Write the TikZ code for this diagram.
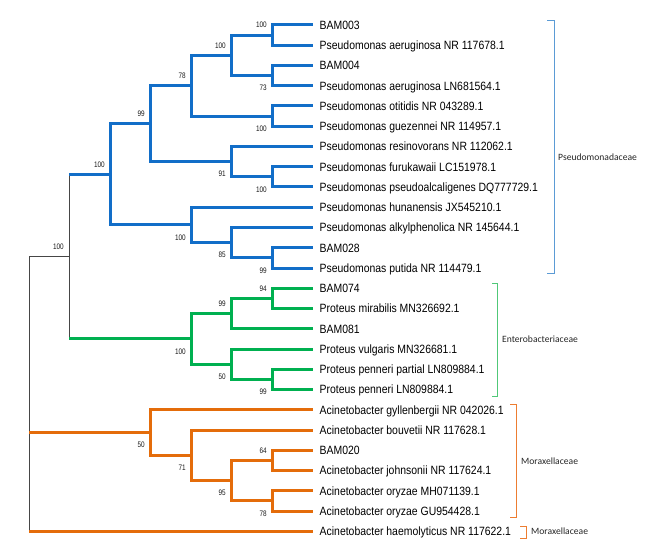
\documentclass[tikz,border=0pt]{standalone}
\usepackage{fontspec}
\newfontfamily\leaffont[FakeStretch=0.87]{Liberation Sans}
\newfontfamily\bootfont[FakeStretch=0.8]{Liberation Sans}
\newfontfamily\famfont{Carlito}
\usepackage{xcolor}
\usetikzlibrary{calc}

\definecolor{megablue}{RGB}{18,110,200}
\definecolor{megagreen}{RGB}{0,176,80}
\definecolor{megaorange}{RGB}{228,108,10}
\definecolor{brblue}{RGB}{91,155,213}
\definecolor{brgreen}{RGB}{80,200,120}
\definecolor{brorange}{RGB}{237,125,49}
\definecolor{rootgray}{RGB}{70,70,70}

\tikzset{
  leaf/.style={anchor=west, inner xsep=6.5pt, inner ysep=0pt, text height=8.6pt, text depth=0pt,
    font=\leaffont\fontsize{12}{12}\selectfont},
  boot/.style={anchor=east, inner sep=0pt,
    font=\bootfont\fontsize{8}{8}\selectfont, text=black!90},
  bootup/.style={boot, xshift=-5pt, yshift=10pt},
  bootdown/.style={boot, xshift=-5pt, yshift=-12.5pt},
  fam/.style={anchor=west, inner sep=0pt, font=\famfont\fontsize{9.6}{9.6}\selectfont, text=black!85},
  pseudo/.style={draw=megablue, line width=3pt},
  entero/.style={draw=megagreen, line width=3pt},
  morax/.style={draw=megaorange, line width=3pt},
  stem/.style={draw=rootgray, line width=1pt},
  bracket/.style={line width=0.9pt}
}

\begin{document}
\begin{tikzpicture}[x=1pt, y=-1pt]
\useasboundingbox (0,0) rectangle (654,559);

% leaves
\node[leaf] (bam003) at (313,25) {BAM003};
\node[leaf] (paerNR) at (313,45.25) {Pseudomonas aeruginosa NR 117678.1};
\node[leaf] (bam004) at (313,65.5) {BAM004};
\node[leaf] (paerLN) at (313,85.75) {Pseudomonas aeruginosa LN681564.1};
\node[leaf] (poti) at (313,106) {Pseudomonas otitidis NR 043289.1};
\node[leaf] (pgue) at (313,126.25) {Pseudomonas guezennei NR 114957.1};
\node[leaf] (pres) at (313,146.5) {Pseudomonas resinovorans NR 112062.1};
\node[leaf] (pfur) at (313,166.75) {Pseudomonas furukawaii LC151978.1};
\node[leaf] (ppse) at (313,187) {Pseudomonas pseudoalcaligenes DQ777729.1};
\node[leaf] (phun) at (313,207.25) {Pseudomonas hunanensis JX545210.1};
\node[leaf] (palk) at (313,227.5) {Pseudomonas alkylphenolica NR 145644.1};
\node[leaf] (bam028) at (313,247.75) {BAM028};
\node[leaf] (pput) at (313,268) {Pseudomonas putida NR 114479.1};
\node[leaf] (bam074) at (313,288.25) {BAM074};
\node[leaf] (pmir) at (313,308.5) {Proteus mirabilis MN326692.1};
\node[leaf] (bam081) at (313,328.75) {BAM081};
\node[leaf] (pvul) at (313,349) {Proteus vulgaris MN326681.1};
\node[leaf] (ppenP) at (313,369.25) {Proteus penneri partial LN809884.1};
\node[leaf] (ppen) at (313,389.5) {Proteus penneri LN809884.1};
\node[leaf] (agyl) at (313,409.75) {Acinetobacter gyllenbergii NR 042026.1};
\node[leaf] (abou) at (313,430) {Acinetobacter bouvetii NR 117628.1};
\node[leaf] (bam020) at (313,450.25) {BAM020};
\node[leaf] (ajoh) at (313,470.5) {Acinetobacter johnsonii NR 117624.1};
\node[leaf] (aoryMH) at (313,490.75) {Acinetobacter oryzae MH071139.1};
\node[leaf] (aoryGU) at (313,511) {Acinetobacter oryzae GU954428.1};
\node[leaf] (ahae) at (313,531.25) {Acinetobacter haemolyticus NR 117622.1};

% inner nodes
\coordinate (pA) at (272,35.125);
\coordinate (pB) at (272,75.625);
\coordinate (pC) at (231,55.375);
\coordinate (pD) at (272,116.125);
\coordinate (pE) at (191,85.75);
\coordinate (pF) at (272,176.875);
\coordinate (pG) at (231,161.69);
\coordinate (pH) at (150,123.72);
\coordinate (pI) at (272,257.875);
\coordinate (pJ) at (231,242.69);
\coordinate (pK) at (191,224.97);
\coordinate (pL) at (110,174.34);
\coordinate (eA) at (272,298.375);
\coordinate (eB) at (231,313.56);
\coordinate (eC) at (272,379.375);
\coordinate (eD) at (231,364.19);
\coordinate (eE) at (191,338.875);
\coordinate (top) at (69,256.6);
\coordinate (mA) at (272,460.375);
\coordinate (mB) at (272,500.875);
\coordinate (mC) at (231,480.625);
\coordinate (mD) at (191,455.31);
\coordinate (mE) at (150,432.53);
\coordinate (root) at (29,432.53);

% stem
\draw[stem] (top |- pL) -- (top |- eE);
\draw[stem] (root |- top) -- (root |- ahae.west);
\draw[stem] (root |- top) -- (top);

% Pseudomonadaceae
\draw[pseudo] (pA) |- (bam003.west) (pA) |- (paerNR.west);
\draw[pseudo] (pB) |- (bam004.west) (pB) |- (paerLN.west);
\draw[pseudo] (pC) |- (pA) (pC) |- (pB);
\draw[pseudo] (pD) |- (poti.west) (pD) |- (pgue.west);
\draw[pseudo] (pE) |- (pC) (pE) |- (pD);
\draw[pseudo] (pF) |- (pfur.west) (pF) |- (ppse.west);
\draw[pseudo] (pG) |- (pres.west) (pG) |- (pF);
\draw[pseudo] (pH) |- (pE) (pH) |- (pG);
\draw[pseudo] (pI) |- (bam028.west) (pI) |- (pput.west);
\draw[pseudo] (pJ) |- (palk.west) (pJ) |- (pI);
\draw[pseudo] (pK) |- (phun.west) (pK) |- (pJ);
\draw[pseudo] (pL) |- (pH) (pL) |- (pK);
\draw[pseudo] (top |- pL) -- (pL);

% Enterobacteriaceae
\draw[entero] (eA) |- (bam074.west) (eA) |- (pmir.west);
\draw[entero] (eB) |- (eA) (eB) |- (bam081.west);
\draw[entero] (eC) |- (ppenP.west) (eC) |- (ppen.west);
\draw[entero] (eD) |- (pvul.west) (eD) |- (eC);
\draw[entero] (eE) |- (eB) (eE) |- (eD);
\draw[entero] (top |- eE) -- (eE);

% Moraxellaceae
\draw[morax] (mA) |- (bam020.west) (mA) |- (ajoh.west);
\draw[morax] (mB) |- (aoryMH.west) (mB) |- (aoryGU.west);
\draw[morax] (mC) |- (mA) (mC) |- (mB);
\draw[morax] (mD) |- (abou.west) (mD) |- (mC);
\draw[morax] (mE) |- (agyl.west) (mE) |- (mD);
\draw[morax] (root) -- (mE);
\draw[morax] (root |- ahae.west) -- (ahae.west);

% bootstrap values
\node[bootup] (bsA) at (pA) {100};
\node[bootdown] (bsB) at (pB) {73};
\node[bootup] (bsC) at (pC) {100};
\node[bootdown] (bsD) at (pD) {100};
\node[bootup] (bsE) at (pE) {78};
\node[bootdown] (bsF) at (pF) {100};
\node[bootdown] (bsG) at (pG) {91};
\node[bootup] (bsH) at (pH) {99};
\node[bootdown] (bsI) at (pI) {99};
\node[bootdown] (bsJ) at (pJ) {85};
\node[bootdown] (bsK) at (pK) {100};
\node[bootup] (bsL) at (pL) {100};
\node[bootup] (bsTop) at (top) {100};
\node[bootup] (bsEA) at (eA) {94};
\node[bootup] (bsEB) at (eB) {99};
\node[bootdown] (bsEC) at (eC) {99};
\node[bootdown] (bsED) at (eD) {50};
\node[bootdown] (bsEE) at (eE) {100};
\node[bootup] (bsMA) at (mA) {64};
\node[bootdown] (bsMB) at (mB) {78};
\node[bootdown] (bsMC) at (mC) {95};
\node[bootdown] (bsMD) at (mD) {71};
\node[bootdown] (bsME) at (mE) {50};

% family brackets
\draw[bracket, brblue] (547,20) -- (554,20) -- (554,273) -- (547,273);
\node[fam] (pseudofam) at (558,157) {Pseudomonadaceae};
\draw[bracket, brgreen] (492,283) -- (497,283) -- (497,396) -- (492,396);
\node[fam] (enterofam) at (502,339) {Enterobacteriaceae};
\draw[bracket, brorange] (510,404) -- (516,404) -- (516,517) -- (510,517);
\node[fam] (moraxfam) at (521,461) {Moraxellaceae};
\draw[bracket, brorange] (520,526) -- (526,526) -- (526,538) -- (520,538);
\node[fam] (moraxfamB) at (531,531) {Moraxellaceae};
\end{tikzpicture}
\end{document}
